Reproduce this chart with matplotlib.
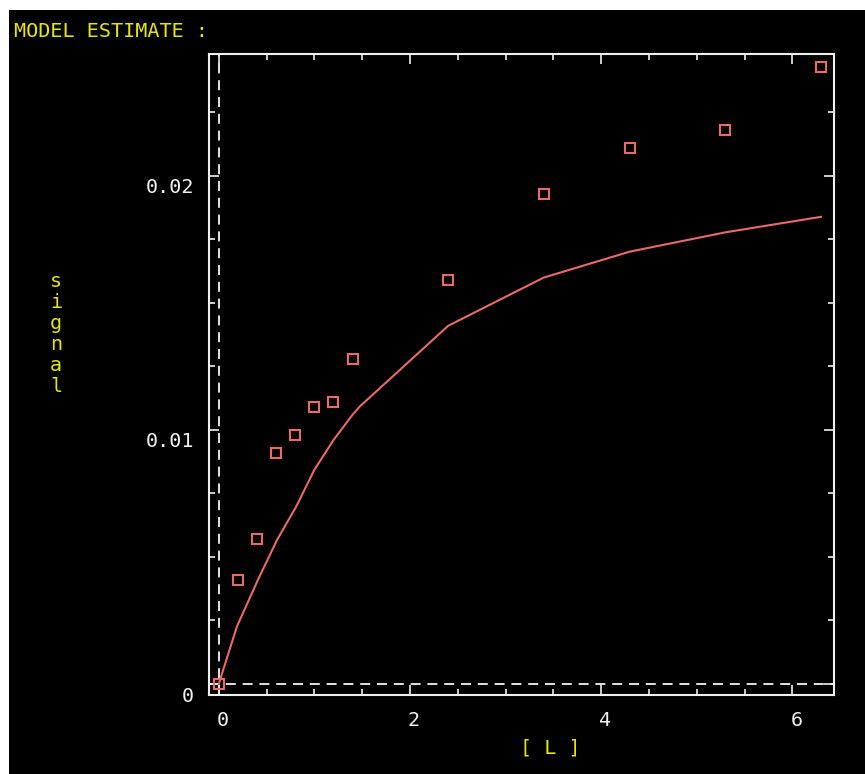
import matplotlib
matplotlib.use("Agg")
import matplotlib.pyplot as plt
import matplotlib.transforms as mtransforms
from matplotlib.patches import Rectangle
from matplotlib.ticker import MultipleLocator

# measured signal vs [L]
conc = [0.0, 0.2, 0.4, 0.6, 0.8, 1.0, 1.2, 1.4, 2.4, 3.4, 4.3, 5.3, 6.3]
signal = [0.0000, 0.0041, 0.0057, 0.0091, 0.0098, 0.0109, 0.0111, 0.0128,
          0.0159, 0.0193, 0.0211, 0.0218, 0.0243]

# model estimate curve
model_x = [0.0, 0.19, 0.41, 0.61, 0.81, 1.0, 1.2, 1.4, 1.48, 2.4, 3.4, 4.3, 5.3, 6.3]
model_y = [0.0, 0.00226, 0.0041, 0.00567, 0.00698, 0.00843, 0.0096, 0.0106,
           0.01094, 0.0141, 0.0160, 0.01702, 0.01778, 0.01839]

xticks = [0, 2, 4, 6]
xtick_labels = ["0", "2", "4", "6"]
yticks = [0, 0.01, 0.02]
ytick_labels = ["0", "0.01", "0.02"]

W, H = 865, 774
red = "#e86a6a"
yellow = "#e6e600"
white = "#f0f0f0"
mono = "DejaVu Sans Mono"
fs = 14.5

fig = plt.figure(figsize=(W / 100, H / 100), dpi=100, facecolor="white")
# black screen area with a thin white margin at top and left
fig.patches.append(Rectangle((9 / W, 0), 1, (H - 10) / H, transform=fig.transFigure,
                             facecolor="black", edgecolor="none", zorder=-10))

ax = fig.add_axes([208.5 / W, (H - 695) / H, (834 - 208.5) / W, (695 - 54) / H])
ax.set_facecolor("black")
ax.set_xlim(-0.107, 6.436)
ax.set_ylim(-0.000433, 0.0248)

for s in ax.spines.values():
    s.set_color(white)
    s.set_linewidth(1.5)

# dashed zero lines
ax.axhline(0, color="#dcdcdc", lw=1.44, dashes=(5, 3.4), zorder=1)
ax.axvline(0, color="#dcdcdc", lw=1.44, dashes=(5, 3.4), zorder=1)

ax.plot(model_x, model_y, color=red, lw=1.5, zorder=3)
ax.plot(conc, signal, ls="none", marker="s", markersize=7.5, mfc="none",
        mec=red, mew=1.5, zorder=4)

ax.set_xticks(xticks)
ax.set_xticklabels(xtick_labels)
ax.set_yticks(yticks)
ax.set_yticklabels(ytick_labels)
ax.xaxis.set_minor_locator(MultipleLocator(0.5))
ax.yaxis.set_minor_locator(MultipleLocator(0.0025))
ax.tick_params(which="both", direction="in", top=True, right=True, colors=white,
               width=1.2, labelcolor=white, labelsize=fs)
ax.tick_params(which="major", length=7.5)
ax.tick_params(which="minor", length=4)
ax.tick_params(axis="x", pad=11.5)
ax.tick_params(axis="y", pad=10.5)

for lab in ax.get_xticklabels():
    lab.set_fontfamily(mono)
    lab.set_transform(lab.get_transform() + mtransforms.ScaledTranslation(0.04, 0, fig.dpi_scale_trans))
for lab in ax.get_yticklabels():
    lab.set_fontfamily(mono)
    lab.set_transform(lab.get_transform() + mtransforms.ScaledTranslation(0, -0.10, fig.dpi_scale_trans))

fig.text(14 / W, 1 - 37 / H, "MODEL ESTIMATE :", color=yellow, fontsize=fs,
         family=mono, ha="left", va="baseline")
fig.text(550 / W, 1 - 754 / H, "[ L ]", color=yellow, fontsize=fs,
         family=mono, ha="center", va="baseline")

# vertical stacked axis label
for i, ch in enumerate("signal"):
    fig.text(56 / W, 1 - (287 + 21 * i) / H, ch, color=yellow, fontsize=fs,
             family=mono, ha="center", va="baseline")

fig.savefig("out.png", dpi=100, facecolor=fig.get_facecolor())
